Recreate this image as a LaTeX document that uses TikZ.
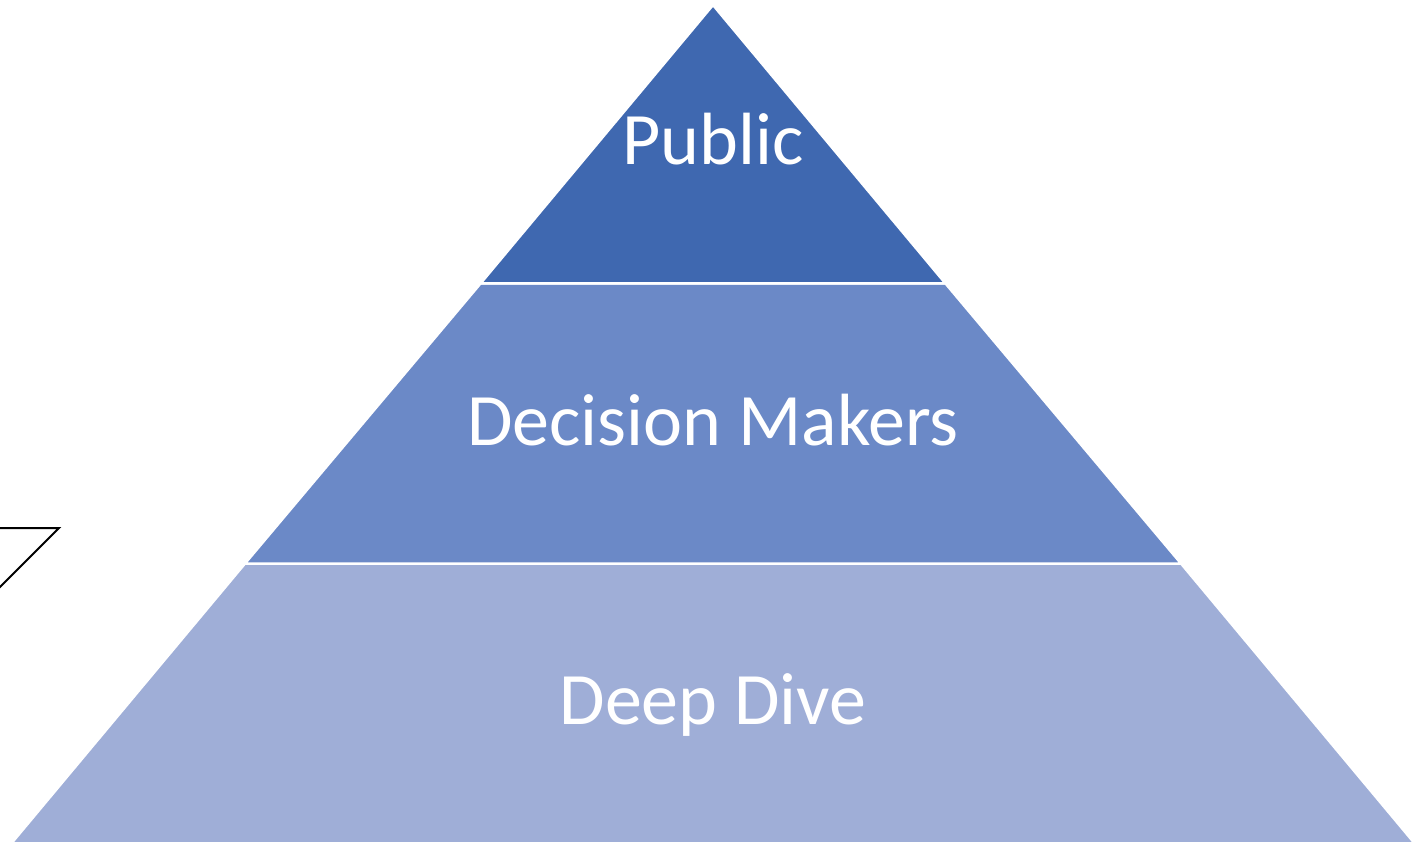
\documentclass[tikz,border=0pt]{standalone}
\usepackage{fontspec}
\setmainfont{Carlito}
\definecolor{tierA}{RGB}{63,104,176}
\definecolor{tierB}{RGB}{107,137,199}
\definecolor{tierC}{RGB}{159,174,215}
\tikzset{
  tier/.style={draw=white, line width=2.5pt, line join=miter},
  label/.style={text=white, font=\fontsize{74}{89}\selectfont, anchor=base, inner sep=0pt},
}
\begin{document}
\begin{tikzpicture}[x=1pt,y=-1pt]
\useasboundingbox (0,0) rectangle (1413,842);
\fill[white] (0,0) rectangle (1413,842);
% tiers
\path[tier, fill=tierC] (245,563.5) -- (1181,563.5) -- (1418.5,848) -- (7.5,848) -- cycle;
\path[tier, fill=tierB] (480.5,283.5) -- (945.5,283.5) -- (1181,563.5) -- (245,563.5) -- cycle;
\path[tier, fill=tierA] (713,5) -- (945.5,283.5) -- (480.5,283.5) -- cycle;
% labels
\node[label] (public) at (713,165) {Public};
\node[label] (decision) at (713,445) {Decision Makers};
\node[label] (deep) at (713,724) {Deep Dive};
% partial shape at left
\coordinate (s1) at (-2,528);
\coordinate (s2) at (59,528);
\coordinate (s3) at (-2,589);
\draw[black, line width=2pt, line join=miter] (s1) -- (s2) -- (s3);
\end{tikzpicture}
\end{document}
